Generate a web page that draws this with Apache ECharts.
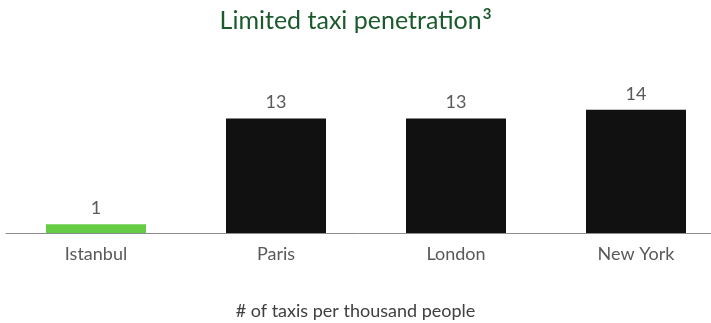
<!DOCTYPE html>
<html>
<head>
<meta charset="utf-8">
<script src="https://cdn.jsdelivr.net/npm/echarts@6/dist/echarts.min.js"></script>
<style>
  html, body { margin: 0; padding: 0; background: #ffffff; }
  #chart { width: 711px; height: 323px; }
</style>
</head>
<body>
<div id="chart"></div>
<script>
// Taxis per thousand inhabitants, by city
const cities = ['Istanbul', 'Paris', 'London', 'New York'];
const taxisPerThousand = [1, 13, 13, 14];
const barColors = ['#66cc44', '#111111', '#111111', '#111111'];

const FONT = 'Lato, "Open Sans", sans-serif';

const chart = echarts.init(document.getElementById('chart'), null, { renderer: 'canvas' });

chart.setOption({
  animation: false,
  backgroundColor: '#ffffff',
  title: [
    {
      text: '{t|Limited taxi penetration}{s|3}',
      left: 'center',
      top: 2,
      textStyle: {
        rich: {
          t: { fontFamily: FONT, fontSize: 25, color: '#1b5a2c', fontWeight: 'normal' },
          s: { fontFamily: FONT, fontSize: 15, color: '#1b5a2c', verticalAlign: 'top', padding: [0, 0, 12, 1] }
        }
      }
    },
    {
      text: '# of taxis per thousand people',
      left: 'center',
      top: 297,
      textStyle: { fontFamily: FONT, fontSize: 18, color: '#404040', fontWeight: 'normal' }
    }
  ],
  grid: { left: 6, top: 57, width: 720, height: 176, containLabel: false, outerBoundsMode: 'none' },
  xAxis: {
    type: 'category',
    data: cities,
    axisLine: { show: true, lineStyle: { color: '#8c8c8c', width: 1 } },
    axisTick: { show: false },
    axisLabel: { fontFamily: FONT, fontSize: 18, color: '#595959', margin: 12 }
  },
  yAxis: {
    type: 'value',
    min: 0,
    max: 20,
    show: false,
    splitLine: { show: false }
  },
  series: [{
    type: 'bar',
    barWidth: 100,
    data: taxisPerThousand.map((v, i) => ({ value: v, itemStyle: { color: barColors[i] } })),
    label: {
      show: true,
      position: 'top',
      distance: 7,
      fontFamily: FONT,
      fontSize: 18,
      color: '#595959'
    }
  }]
});
</script>
</body>
</html>
